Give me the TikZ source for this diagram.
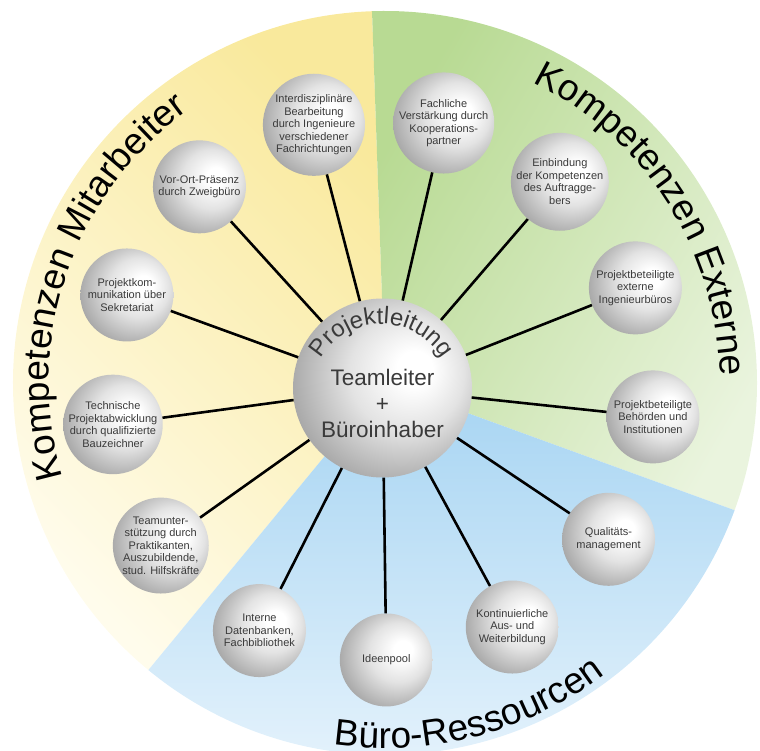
\documentclass[tikz,border=0pt]{standalone}
\usepackage{fontspec}
\setmainfont{Liberation Sans}
\usetikzlibrary{calc,decorations.text}

\definecolor{yellowDeep}{HTML}{F9E99C}
\definecolor{yellowPale}{HTML}{FFFCEC}
\definecolor{greenDeep}{HTML}{B8DA93}
\definecolor{greenPale}{HTML}{EAF4DE}
\definecolor{blueDeep}{HTML}{A6D4F2}
\definecolor{bluePale}{HTML}{E6F3FC}
\definecolor{ballText}{HTML}{3A3A3A}

% grey sphere, light coming from the right
\pgfdeclareradialshading{sphere}{\pgfpoint{10bp}{6bp}}{color(0bp)=(white); color(5bp)=(white); color(16bp)=(black!11); color(28bp)=(black!31); color(36bp)=(black!44); color(50bp)=(black!44)}

\begin{document}
\begin{tikzpicture}[x=1pt, y=1pt]
\tikzstyle{bubble} = [circle, shade, shading=sphere, minimum size=93pt, inner sep=0pt, align=center, text=ballText, font=\fontsize{11}{12.5}\selectfont]
\tikzstyle{hub} = [circle, shade, shading=sphere, minimum size=179pt, inner sep=0pt]
\tikzstyle{spoke} = [draw, line width=2.6pt]

\useasboundingbox (-382.5,-363) rectangle (377.5,388);

% Sectors
\begin{scope}[shift={(2.5,5)}]
\shade [top color=yellowDeep, bottom color=yellowPale, shading angle=-45] (0,0) -- (92:372) arc [start angle=92, end angle=230.5, radius=372] -- cycle;
\shade [top color=greenDeep, bottom color=greenPale, shading angle=60] (0,0) -- (-20:372) arc [start angle=-20, end angle=92, radius=372] -- cycle;
\shade [top color=blueDeep, bottom color=bluePale] (0,0) -- (230.5:372) arc [start angle=230.5, end angle=340, radius=372] -- cycle;

% Sector titles
\path [decorate, decoration={text along path, text align=center, text={|\fontsize{37}{37}\selectfont|Kompetenzen Mitarbeiter}}] (235:336) arc [start angle=235, end angle=87, radius=336];
\path [decorate, decoration={text along path, text align=center, text={|\fontsize{37}{37}\selectfont|Kompetenzen Externe}}] (105:335) arc [start angle=105, end angle=-40, radius=335];
\path [decorate, decoration={text along path, text align=center, text={|\fontsize{37}{37}\selectfont|Büro-Ressourcen}}] (210:365) arc [start angle=210, end angle=359, radius=365];
\end{scope}

% Hub
\node [hub] (projektleitung) at (0,0) {};
\node [font=\fontsize{22.5}{26}\selectfont, text=ballText, align=center, inner sep=0pt] (teamleiter) at (0,-15) {Teamleiter\\+\\Büroinhaber};
\path [decorate, decoration={text along path, text align=center, text color=ballText, text={|\fontsize{24}{24}\selectfont|Projektleitung}}] ($(-1,-6)+(200:70)$) arc [start angle=200, end angle=-20, radius=70];

% Bubbles
\node [bubble] (ideenpool) at (270.8:272) {Ideenpool};
\node [bubble] (interneDatenbanken) at (243.1:272) {Interne\\Datenbanken,\\Fachbibliothek};
\node [bubble] (teamunterstuetzung) at (215.4:272) {Teamunter-\\stützung durch\\Praktikanten,\\Auszubildende,\\stud. Hilfskräfte};
\node [bubble] (technischeAbwicklung) at (187.7:272) {Technische\\Projektabwicklung\\durch qualifizierte\\Bauzeichner};
\node [bubble] (projektkommunikation) at (160.0:272) {Projektkom-\\munikation über\\Sekretariat};
\node [bubble] (vorOrtPraesenz) at (132.3:272) {Vor-Ort-Präsenz\\durch Zweigbüro};
\node [bubble] (interdisziplinaer) at (104.6:272) {Interdisziplinäre\\Bearbeitung\\durch Ingenieure\\verschiedener\\Fachrichtungen};
\node [bubble] (fachlicheVerstaerkung) at (77.0:272) {Fachliche\\Verstärkung durch\\Kooperations-\\partner};
\node [bubble] (einbindungAuftraggeber) at (49.3:272) {Einbindung\\der Kompetenzen\\des Auftragge-\\bers};
\node [bubble] (externeIngenieure) at (21.6:272) {Projektbeteiligte\\externe\\Ingenieurbüros};
\node [bubble] (behoerden) at (353.9:272) {Projektbeteiligte\\Behörden und\\Institutionen};
\node [bubble] (qualitaet) at (326.2:272) {Qualitäts-\\management};
\node [bubble] (weiterbildung) at (298.5:272) {Kontinuierliche\\Aus- und\\Weiterbildung};

% Spokes
\draw [spoke] (projektleitung) -- (ideenpool);
\draw [spoke] (projektleitung) -- (interneDatenbanken);
\draw [spoke] (projektleitung) -- (teamunterstuetzung);
\draw [spoke] (projektleitung) -- (technischeAbwicklung);
\draw [spoke] (projektleitung) -- (projektkommunikation);
\draw [spoke] (projektleitung) -- (vorOrtPraesenz);
\draw [spoke] (projektleitung) -- (interdisziplinaer);
\draw [spoke] (projektleitung) -- (fachlicheVerstaerkung);
\draw [spoke] (projektleitung) -- (einbindungAuftraggeber);
\draw [spoke] (projektleitung) -- (externeIngenieure);
\draw [spoke] (projektleitung) -- (behoerden);
\draw [spoke] (projektleitung) -- (qualitaet);
\draw [spoke] (projektleitung) -- (weiterbildung);

\end{tikzpicture}
\end{document}
